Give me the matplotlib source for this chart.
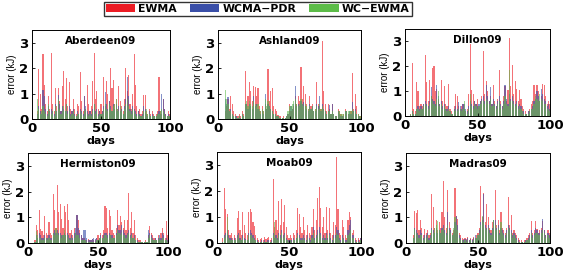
import numpy as np
import matplotlib
matplotlib.use("Agg")
import matplotlib.pyplot as plt
from matplotlib.patches import Patch

plt.rcParams['font.family'] = ['DejaVu Sans']

days = np.arange(100)
series_names = ["EWMA", "WCMA\u2212PDR", "WC\u2212EWMA"]
colors = ["#ec1c24", "#3a4fa8", "#5cbc48"]
sites = ["Aberdeen09", "Ashland09", "Dillon09", "Hermiston09", "Moab09", "Madras09"]

aberdeen_ewma = [0, 0, 0, 0.3, 1.95, 1.0, 0.4, 2.55, 1.35, 0.6,
                 0.3, 0.9, 0.4, 2.6, 0.6, 0.3, 1.2, 0.5, 1.2, 0.7,
                 0.3, 1.3, 1.9, 0.8, 1.6, 0.5, 1.45, 0.4, 0.3, 0.8,
                 0.4, 0.2, 0.6, 0.5, 1.85, 0.7, 0.3, 0.9, 0.4, 1.35,
                 0.6, 0.3, 0.5, 1.5, 2.6, 0.8, 1.1, 0.4, 0.3, 0.6,
                 0.3, 1.65, 0.5, 1.5, 1.0, 0.7, 2.0, 1.2, 1.55, 0.6,
                 0.8, 0.4, 1.3, 0.7, 0.5, 0.3, 0.8, 2.0, 1.1, 1.75,
                 0.6, 0.4, 1.0, 2.55, 1.35, 0.5, 0.3, 0.4, 0.2, 0.3,
                 0.95, 0.95, 0.3, 0.2, 0.4, 0.2, 0.3, 0.2, 0.1, 0.2,
                 0.3, 1.65, 0.3, 0.2, 0.8, 0.4, 0.2, 0.1, 0.3, 0.2]
aberdeen_wcma = [0, 0, 0, 0.2, 0.5, 0.3, 0.2, 1.15, 0.9, 0.4,
                 0.2, 0.5, 0.3, 0.4, 0.3, 0.2, 0.6, 0.3, 0.95, 0.6,
                 0.3, 0.5, 0.4, 0.3, 0.6, 0.3, 0.5, 0.2, 0.3, 0.4,
                 0.2, 0.1, 0.3, 0.2, 0.4, 0.3, 0.2, 0.9, 0.5, 0.3,
                 0.2, 0.3, 0.2, 0.4, 0.6, 0.3, 0.4, 0.2, 0.3, 0.2,
                 0.3, 0.5, 1.05, 0.6, 0.4, 0.7, 0.5, 0.3, 0.6, 0.4,
                 0.6, 0.3, 0.5, 0.3, 0.4, 0.2, 0.5, 0.8, 1.65, 0.9,
                 0.4, 0.3, 0.5, 0.4, 0.3, 0.2, 0.3, 0.2, 0.1, 0.2,
                 0.5, 0.4, 0.2, 0.1, 0.3, 0.1, 0.2, 0.1, 0.1, 0.1,
                 0.2, 0.3, 0.2, 1.0, 0.8, 0.4, 0.2, 0.1, 0.2, 0.1]
aberdeen_wcewma = [0, 0, 0, 0.8, 0.4, 0.2, 0.3, 0.5, 0.3, 0.2,
                   0.1, 0.6, 0.3, 0.2, 0.3, 0.1, 0.5, 0.3, 0.8, 0.4,
                   0.2, 0.3, 0.5, 0.3, 0.6, 0.2, 0.3, 0.1, 0.2, 0.3,
                   0.1, 0.1, 0.2, 0.2, 0.3, 0.2, 0.1, 0.3, 0.4, 0.2,
                   0.1, 0.2, 0.1, 0.3, 0.6, 0.2, 0.3, 0.1, 0.2, 0.2,
                   0.2, 0.4, 0.6, 0.4, 0.3, 0.6, 0.4, 0.3, 0.5, 0.6,
                   0.8, 0.4, 0.3, 0.5, 0.3, 0.2, 0.4, 0.6, 0.8, 0.5,
                   0.3, 0.2, 0.4, 0.3, 0.2, 0.1, 0.2, 0.1, 0.1, 0.1,
                   0.3, 0.3, 0.4, 0.2, 0.2, 0.1, 0.1, 0.1, 0.1, 0.1,
                   0.2, 0.2, 0.3, 0.4, 0.3, 0.2, 0.1, 0.1, 0.1, 0.1]

ashland_ewma = [0, 0, 0, 0, 0.3, 0.5, 0.8, 0.4, 0.9, 0.6,
                0.3, 0.2, 0.1, 0.1, 0.2, 0.1, 0.3, 0.2, 1.9, 0.6,
                0.9, 1.45, 1.1, 0.7, 1.3, 1.25, 0.9, 1.2, 0.5, 0.3,
                0.5, 0.3, 0.6, 0.4, 1.95, 0.7, 1.1, 1.2, 0.5, 0.4,
                0.3, 0.15, 0.1, 0.1, 0.05, 0.1, 0.05, 0.1, 0.2, 0.6,
                0.3, 0.4, 0.5, 0.9, 0.6, 0.9, 0.7, 2.05, 0.8, 1.3,
                1.0, 0.6, 0.4, 0.9, 0.5, 0.6, 0.3, 0.4, 1.45, 0.6,
                0.5, 0.4, 3.05, 1.1, 0.6, 0.3, 0.6, 0.4, 0.2, 0.6,
                0.2, 0.1, 0.1, 0.4, 0.3, 0.2, 0.1, 0.2, 0.4, 0.3,
                0.2, 0.2, 0.3, 1.8, 0.4, 1.0, 0.5, 0.2, 0.1, 0.1]
ashland_wcma = [0, 0, 0, 0, 0.8, 0.6, 0.85, 0.3, 0.4, 0.2,
                0.1, 0.1, 0.1, 0.05, 0.1, 0.05, 0.2, 0.1, 0.6, 0.6,
                0.4, 0.6, 0.5, 0.4, 0.9, 0.5, 0.6, 0.4, 0.3, 0.2,
                0.3, 0.2, 1.0, 0.4, 0.6, 0.5, 0.4, 0.3, 0.2, 0.2,
                0.1, 0.1, 0.05, 0.05, 0.05, 0.05, 0.05, 0.1, 0.2, 0.3,
                0.5, 0.4, 0.6, 1.3, 0.5, 0.6, 0.5, 0.7, 0.6, 0.65,
                0.5, 0.4, 0.3, 0.6, 0.4, 0.5, 0.3, 0.3, 0.6, 0.5,
                0.9, 0.3, 0.6, 0.4, 0.3, 0.2, 0.3, 0.55, 0.2, 0.6,
                0.2, 0.1, 0.1, 0.3, 0.2, 0.1, 0.1, 0.1, 0.3, 0.3,
                0.2, 0.3, 0.2, 0.65, 0.3, 0.4, 0.2, 0.1, 0.1, 0.05]
ashland_wcewma = [0, 0, 0, 0, 1.15, 0.8, 0.6, 0.3, 0.3, 0.2,
                  0.1, 0.1, 0.05, 0.05, 0.1, 0.05, 0.2, 0.1, 0.6, 0.7,
                  0.5, 0.7, 0.6, 0.5, 0.7, 0.6, 0.5, 0.6, 0.4, 0.3,
                  0.4, 0.3, 0.8, 0.5, 0.7, 0.5, 0.4, 0.3, 0.2, 0.2,
                  0.1, 0.1, 0.05, 0.05, 0.05, 0.05, 0.05, 0.1, 0.3, 0.5,
                  0.5, 0.6, 0.7, 0.8, 0.6, 0.5, 0.6, 0.8, 0.6, 0.5,
                  0.6, 0.5, 0.4, 0.5, 0.4, 0.5, 0.3, 0.4, 0.5, 0.4,
                  0.6, 0.4, 0.5, 0.4, 0.3, 0.2, 0.3, 0.3, 0.2, 0.3,
                  0.2, 0.1, 0.1, 0.3, 0.3, 0.2, 0.2, 0.2, 0.3, 0.3,
                  0.3, 0.3, 0.3, 0.4, 0.3, 0.3, 0.2, 0.2, 0.1, 0.1]

dillon_ewma = [0, 0, 0, 0.1, 2.15, 0.3, 0.2, 1.35, 1.0, 0.4,
               0.5, 0.4, 0.5, 2.45, 1.35, 0.6, 1.45, 0.8, 1.95, 2.0,
               1.0, 1.1, 0.7, 0.5, 1.45, 0.6, 1.2, 0.5, 0.4, 1.3,
               0.3, 0.2, 0.1, 0.4, 0.9, 0.8, 0.4, 0.3, 0.4, 0.5,
               0.3, 0.2, 0.3, 0.9, 2.9, 1.05, 0.9, 0.6, 0.5, 0.7,
               0.4, 0.6, 0.8, 2.6, 0.9, 1.4, 1.0, 0.6, 0.8, 0.5,
               1.25, 0.6, 0.4, 0.7, 1.85, 0.6, 0.4, 0.8, 1.2, 0.6,
               1.05, 3.15, 1.2, 2.05, 0.9, 1.4, 1.1, 0.6, 1.05, 0.7,
               0.4, 0.3, 0.2, 0.1, 0.2, 0.3, 0.5, 0.6, 1.25, 0.9,
               1.25, 1.0, 0.6, 0.8, 1.3, 1.25, 0.8, 0.5, 0.6, 0.5]
dillon_wcma = [0, 0, 0, 0.05, 0.2, 0.1, 0.1, 0.3, 0.4, 0.3,
               0.4, 0.3, 0.5, 0.6, 0.5, 0.4, 0.6, 1.15, 0.7, 0.6,
               0.5, 1.25, 0.8, 0.5, 0.6, 0.4, 0.5, 0.3, 0.3, 0.4,
               0.2, 0.1, 0.1, 0.3, 0.4, 0.3, 0.55, 0.4, 0.3, 0.5,
               0.5, 0.3, 0.2, 0.4, 0.6, 0.5, 0.4, 0.6, 0.5, 0.4,
               0.5, 0.6, 0.7, 0.8, 0.6, 1.25, 0.8, 0.6, 1.15, 0.5,
               0.7, 0.5, 0.4, 0.6, 0.8, 0.5, 0.4, 0.6, 1.25, 0.7,
               0.5, 0.9, 0.7, 0.8, 0.6, 0.5, 0.6, 0.4, 0.5, 0.4,
               0.2, 0.2, 0.1, 0.1, 0.2, 0.2, 0.3, 0.4, 0.6, 0.7,
               1.0, 0.8, 0.6, 1.1, 0.9, 0.7, 0.6, 0.4, 0.5, 0.3]
dillon_wcewma = [0, 0, 0, 0.1, 0.2, 0.1, 0.1, 0.3, 0.3, 0.2,
                 0.3, 0.3, 0.4, 0.5, 0.4, 0.3, 0.5, 0.8, 0.6, 0.5,
                 0.4, 0.7, 1.0, 0.4, 0.5, 0.3, 0.4, 0.3, 0.2, 0.3,
                 0.2, 0.1, 0.1, 0.2, 0.3, 0.2, 0.3, 0.3, 0.2, 0.3,
                 0.6, 0.2, 0.1, 0.3, 0.9, 0.4, 0.3, 0.5, 0.4, 0.3,
                 0.4, 0.5, 0.6, 0.6, 0.5, 0.7, 0.6, 0.5, 0.7, 0.4,
                 0.5, 0.4, 0.3, 0.5, 0.6, 0.4, 0.3, 0.5, 0.8, 0.5,
                 0.4, 1.85, 0.6, 0.6, 0.5, 0.4, 0.5, 0.3, 0.4, 0.3,
                 0.2, 0.1, 0.1, 0.1, 0.1, 0.2, 0.3, 0.3, 0.5, 0.8,
                 0.7, 0.6, 0.9, 0.7, 0.6, 0.5, 0.5, 0.3, 0.3, 0.2]

hermiston_ewma = [0, 0, 0, 0, 0.1, 0.7, 0.5, 1.3, 0.55, 0.45,
                  0.3, 1.05, 0.4, 0.3, 0.8, 0.4, 0.3, 1.9, 1.3, 0.6,
                  2.25, 1.2, 1.5, 0.95, 0.6, 1.45, 1.2, 1.5, 0.9, 0.4,
                  0.5, 0.3, 0.6, 0.4, 1.1, 0.9, 0.5, 0.3, 0.2, 0.2,
                  0.1, 0.1, 0.15, 0.1, 0.1, 0.15, 0.1, 0.1, 0.2, 0.3,
                  0.2, 0.4, 0.3, 0.5, 1.45, 1.35, 0.6, 1.3, 1.05, 0.5,
                  0.4, 0.3, 0.6, 1.3, 0.7, 1.05, 0.8, 0.6, 0.9, 0.5,
                  0.9, 1.95, 0.6, 1.2, 0.4, 0.9, 0.3, 0.2, 0.1, 0.1,
                  0.05, 0.05, 0.05, 0.1, 0.05, 0.3, 0.65, 0.4, 0.3, 0.2,
                  0.2, 0.1, 0.3, 0.2, 0.4, 0.6, 0.4, 0.2, 0.85, 0.3]
hermiston_wcma = [0, 0, 0, 0, 0.05, 0.3, 0.2, 0.4, 0.3, 0.2,
                  0.2, 0.3, 0.2, 0.2, 0.3, 0.2, 0.2, 0.4, 0.5, 0.4,
                  0.5, 0.4, 0.4, 0.3, 0.3, 0.4, 0.3, 0.4, 0.3, 0.2,
                  0.3, 0.2, 0.4, 0.6, 1.1, 0.6, 0.4, 0.3, 0.2, 0.5,
                  0.5, 0.2, 0.1, 0.1, 0.1, 0.15, 0.2, 0.15, 0.2, 0.1,
                  0.2, 0.3, 0.2, 0.3, 0.4, 0.4, 0.3, 0.4, 0.3, 0.3,
                  0.2, 0.2, 0.4, 0.7, 0.5, 0.5, 0.7, 0.5, 0.4, 0.3,
                  0.4, 0.5, 0.3, 0.4, 0.2, 0.3, 0.1, 0.1, 0.05, 0.05,
                  0.05, 0.05, 0.05, 0.05, 0.05, 0.5, 0.4, 0.3, 0.2, 0.1,
                  0.2, 0.1, 0.2, 0.3, 0.2, 0.4, 0.3, 0.1, 0.2, 0.1]
hermiston_wcewma = [0, 0, 0, 0, 0.05, 0.45, 0.3, 0.2, 0.2, 0.1,
                    0.1, 0.2, 0.2, 0.1, 0.2, 0.1, 0.1, 0.4, 0.3, 0.6,
                    0.4, 0.3, 0.3, 0.2, 0.3, 0.5, 0.3, 0.3, 0.2, 0.1,
                    0.2, 0.1, 0.2, 0.4, 0.3, 0.3, 0.2, 0.1, 0.1, 0.1,
                    0.1, 0.05, 0.05, 0.05, 0.05, 0.05, 0.05, 0.05, 0.1, 0.1,
                    0.2, 0.2, 0.2, 0.2, 0.3, 0.3, 0.2, 0.3, 0.3, 0.2,
                    0.2, 0.2, 0.3, 0.5, 0.4, 0.3, 0.4, 0.3, 0.3, 0.2,
                    0.3, 0.4, 0.2, 0.3, 0.2, 0.2, 0.1, 0.05, 0.05, 0.05,
                    0.05, 0.05, 0.05, 0.05, 0.05, 0.2, 0.3, 0.2, 0.1, 0.1,
                    0.1, 0.1, 0.1, 0.2, 0.1, 0.2, 0.2, 0.1, 0.1, 0.05]

moab_ewma = [0, 0, 0, 0.2, 2.1, 1.3, 1.1, 0.5, 0.3, 0.4,
             0.2, 0.3, 0.2, 0.95, 1.25, 0.5, 0.3, 1.2, 0.7, 0.4,
             0.3, 1.2, 1.3, 1.2, 0.8, 0.65, 0.3, 0.2, 0.1, 0.15,
             0.2, 0.1, 0.25, 0.15, 0.2, 0.25, 0.1, 0.2, 2.45, 0.6,
             0.9, 0.5, 1.6, 0.7, 1.7, 0.8, 1.45, 0.6, 0.3, 0.2,
             0.3, 0.2, 0.4, 0.3, 0.5, 1.35, 1.1, 0.6, 0.4, 1.0,
             0.5, 0.3, 0.7, 0.4, 0.3, 0.6, 1.3, 0.5, 0.9, 1.75,
             2.15, 1.35, 0.6, 1.0, 0.4, 1.4, 0.5, 1.35, 0.4, 0.3,
             0.8, 0.7, 3.3, 1.3, 0.4, 0.3, 0.9, 0.6, 0.3, 0.2,
             0.9, 1.2, 1.0, 0.4, 0.5, 0.2, 0.1, 0.2, 0.1, 0.2]
moab_wcma = [0, 0, 0, 0.05, 0.3, 0.4, 0.5, 0.3, 0.2, 0.2,
             0.1, 0.2, 0.1, 0.3, 0.4, 0.2, 0.1, 0.3, 0.2, 0.15,
             0.1, 0.4, 0.5, 0.4, 0.3, 0.2, 0.1, 0.1, 0.05, 0.05,
             0.1, 0.05, 0.1, 0.05, 0.1, 0.1, 0.05, 0.1, 0.4, 0.2,
             0.3, 0.2, 0.4, 0.3, 0.5, 0.3, 0.4, 0.2, 0.1, 0.1,
             0.1, 0.1, 0.2, 0.1, 0.2, 0.4, 0.3, 0.2, 0.2, 0.3,
             0.2, 0.1, 0.3, 0.2, 0.1, 0.3, 0.6, 0.2, 0.3, 0.5,
             0.6, 0.4, 0.2, 0.3, 0.2, 0.4, 0.2, 0.4, 0.2, 0.1,
             0.3, 0.3, 0.6, 0.5, 0.2, 0.1, 0.3, 0.2, 0.1, 0.1,
             0.5, 0.7, 0.9, 0.3, 0.3, 0.1, 0.05, 0.1, 0.05, 0.2]
moab_wcewma = [0, 0, 0, 0.05, 0.2, 0.3, 1.0, 0.2, 0.1, 0.1,
               0.1, 0.1, 0.1, 0.2, 0.3, 0.1, 0.1, 0.2, 0.1, 0.1,
               0.1, 0.3, 0.3, 0.3, 0.2, 0.1, 0.1, 0.05, 0.05, 0.05,
               0.05, 0.05, 0.05, 0.05, 0.05, 0.05, 0.05, 0.05, 0.3, 0.8,
               0.2, 0.1, 0.3, 0.2, 0.4, 0.2, 0.3, 0.1, 0.1, 0.05,
               0.1, 0.05, 0.1, 0.1, 0.2, 0.3, 0.2, 0.1, 0.1, 0.2,
               0.1, 0.05, 0.2, 0.1, 0.05, 0.2, 0.4, 0.1, 0.2, 0.3,
               0.4, 0.3, 0.1, 0.2, 0.1, 0.3, 0.1, 0.3, 0.1, 0.05,
               0.2, 0.2, 0.4, 0.3, 0.1, 0.05, 0.2, 0.1, 0.05, 0.05,
               0.3, 0.4, 0.5, 0.2, 0.2, 0.05, 0.05, 0.05, 0.05, 0.1]

madras_ewma = [0, 0, 0, 0, 0.3, 1.25, 1.15, 1.3, 0.5, 0.9,
               0.6, 0.3, 0.55, 0.4, 0.5, 0.3, 0.4, 1.9, 1.4, 0.6,
               0.9, 0.5, 0.8, 0.6, 1.2, 2.4, 1.0, 0.6, 2.05, 0.8,
               0.6, 0.4, 0.5, 2.15, 1.05, 0.95, 0.4, 0.3, 0.2, 0.15,
               0.2, 0.15, 0.25, 0.1, 0.2, 0.15, 0.25, 0.2, 0.3, 0.4,
               0.6, 2.2, 1.0, 1.95, 0.8, 1.5, 1.0, 0.6, 0.5, 0.8,
               0.9, 2.05, 0.7, 0.9, 0.5, 1.2, 0.6, 0.5, 0.4, 0.6,
               1.8, 0.7, 1.1, 0.4, 0.5, 0.4, 0.3, 0.2, 0.1, 0.1,
               0.05, 0.1, 0.1, 0.2, 0.3, 0.4, 0.85, 0.4, 0.5, 0.85,
               0.55, 0.4, 0.5, 0.6, 0.85, 0.5, 0.3, 0.5, 0.5, 0.4]
madras_wcma = [0, 0, 0, 0, 0.2, 0.6, 0.5, 0.4, 0.3, 0.5,
               0.4, 0.2, 0.3, 0.3, 0.4, 0.2, 0.3, 0.6, 0.5, 0.4,
               0.6, 0.4, 0.5, 0.4, 0.6, 0.7, 0.5, 0.4, 1.2, 0.6,
               0.5, 0.3, 0.4, 0.8, 1.05, 0.7, 0.3, 0.2, 0.1, 0.1,
               0.15, 0.1, 0.2, 0.1, 0.15, 0.1, 0.2, 0.3, 0.2, 0.3,
               0.5, 0.8, 0.9, 1.9, 0.7, 0.6, 0.7, 0.5, 0.4, 0.6,
               0.9, 0.9, 0.6, 0.7, 0.4, 0.6, 0.5, 0.4, 0.3, 0.5,
               0.7, 0.6, 0.5, 0.3, 0.4, 0.3, 0.2, 0.1, 0.05, 0.05,
               0.05, 0.05, 0.1, 0.1, 0.2, 0.3, 0.5, 0.3, 0.4, 0.6,
               0.5, 0.4, 0.4, 0.5, 0.95, 0.5, 0.3, 0.4, 0.4, 0.3]
madras_wcewma = [0, 0, 0, 0, 0.2, 0.55, 0.4, 0.3, 0.2, 0.3,
                 0.3, 0.1, 0.2, 0.2, 0.3, 0.1, 0.2, 0.5, 0.4, 0.6,
                 0.7, 0.85, 0.5, 0.4, 0.5, 0.6, 0.4, 0.3, 0.7, 0.5,
                 0.4, 0.3, 0.6, 1.0, 0.7, 0.5, 0.2, 0.1, 0.1, 0.05,
                 0.1, 0.05, 0.1, 0.05, 0.1, 0.05, 0.1, 0.2, 0.2, 0.3,
                 0.4, 0.7, 1.05, 0.8, 0.6, 0.5, 0.6, 0.4, 0.3, 0.5,
                 0.9, 0.7, 0.5, 0.6, 0.3, 0.8, 0.4, 0.3, 0.2, 0.4,
                 0.6, 0.5, 0.4, 0.2, 0.3, 0.2, 0.1, 0.05, 0.05, 0.05,
                 0.05, 0.05, 0.05, 0.1, 0.1, 0.2, 0.4, 0.2, 0.3, 0.4,
                 0.4, 0.3, 0.3, 0.4, 0.5, 0.4, 0.2, 0.3, 0.3, 0.2]

panel_data = [
    (aberdeen_ewma, aberdeen_wcma, aberdeen_wcewma),
    (ashland_ewma, ashland_wcma, ashland_wcewma),
    (dillon_ewma, dillon_wcma, dillon_wcewma),
    (hermiston_ewma, hermiston_wcma, hermiston_wcewma),
    (moab_ewma, moab_wcma, moab_wcewma),
    (madras_ewma, madras_wcma, madras_wcewma),
]

W, H = 564, 270
boxes_px = [(32, 30, 170, 119), (218, 30, 361, 119), (405, 29, 550, 116),
            (28, 153, 168, 243), (217, 152, 361, 243), (406, 153, 550, 243)]
alphas = [0.62, 0.62, 0.58]

fig = plt.figure(figsize=(W / 100, H / 100), dpi=100)

for (x0, y0, x1, y1), name, vals in zip(boxes_px, sites, panel_data):
    ax = fig.add_axes([x0 / W, 1 - y1 / H, (x1 - x0) / W, (y1 - y0) / H])
    for v, c, a in zip(vals, colors, alphas):
        ax.bar(days + 1, v, width=0.8, color=c, alpha=a, linewidth=0)
    ax.set_xlim(0, 100)
    ax.set_ylim(0, 3.5)
    ax.set_xticks([0, 50, 100])
    ax.set_yticks([0, 1, 2, 3])
    ax.tick_params(direction='in', length=2.5, width=0.6, labelsize=9.5)
    ax.tick_params(axis='x', pad=2.5)
    ax.tick_params(axis='y', pad=2.5)
    for lab in ax.get_xticklabels() + ax.get_yticklabels():
        lab.set_fontweight('bold')
    for s in ax.spines.values():
        s.set_linewidth(0.7)
    ax.set_xlabel('days', fontsize=8, fontweight='bold', labelpad=0.5)
    ax.set_ylabel('error (kJ)', fontsize=7, family='Liberation Sans', labelpad=1.5)
    ax.text(0.5, 0.93, name, transform=ax.transAxes, ha='center', va='top',
            fontsize=7.5, fontweight='bold')

handles = [Patch(facecolor=c, edgecolor='none') for c in colors]
fig.legend(handles, series_names, loc='upper center', bbox_to_anchor=(0.457, 1.0),
           ncol=3, prop={'weight': 'bold', 'size': 7.8},
           handlelength=2.7, handleheight=0.7, columnspacing=1.2, handletextpad=0.3,
           frameon=True, fancybox=False, edgecolor='black', borderpad=0.2,
           borderaxespad=0.15)

fig.savefig('out.png', dpi=100)
